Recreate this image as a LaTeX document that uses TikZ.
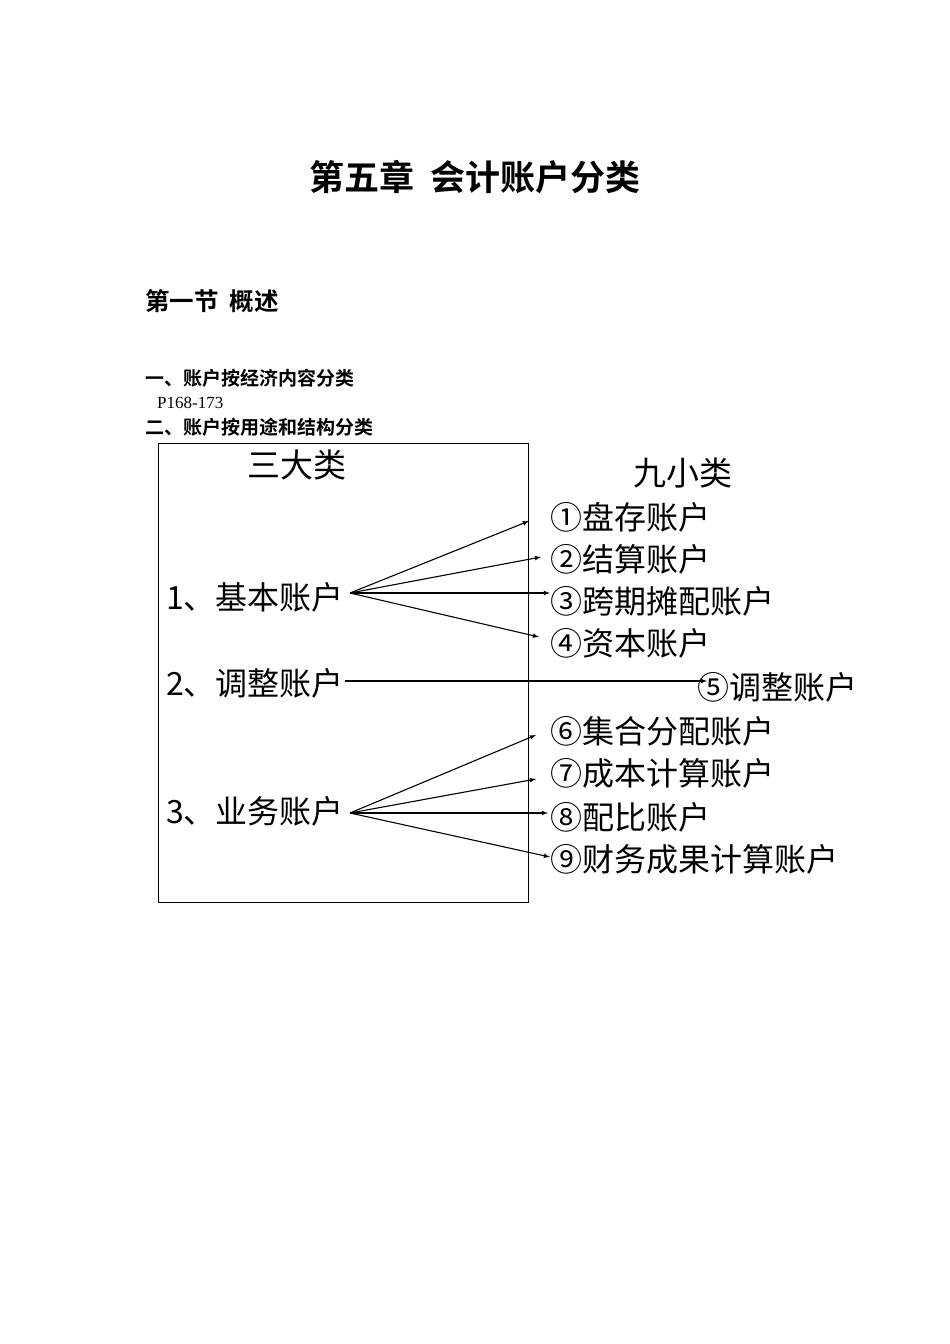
\documentclass[tikz,border=0pt]{standalone}
\usepackage{fontspec}
\setmainfont{Noto Sans CJK SC}
\newfontfamily\cjkb{Noto Sans CJK SC Bold}
\newfontfamily\serifl{Liberation Serif}
\begin{document}
\begin{tikzpicture}[x=1pt,y=-1pt,
  item/.style={anchor=west,inner sep=0pt,font=\fontsize{32}{32}\selectfont},
  arr/.style={-latex,line width=1.1pt}]
\useasboundingbox (0,0) rectangle (950,1344);
\node[inner sep=0pt] (title) at (475,177) {\cjkb\fontsize{35}{35}\selectfont 第五章\ \ 会计账户分类};
\node[anchor=west,inner sep=0pt] (sec) at (145,301) {\cjkb\fontsize{24.5}{24.5}\selectfont 第一节\ \ 概述};
\node[anchor=west,inner sep=0pt] (h1) at (145,378) {\cjkb\fontsize{19}{19}\selectfont 一、账户按经济内容分类};
\node[anchor=west,inner sep=0pt] (p) at (157,403) {\serifl\fontsize{17}{17}\selectfont P168-173};
\node[anchor=west,inner sep=0pt] (h2) at (145,427) {\cjkb\fontsize{19}{19}\selectfont 二、账户按用途和结构分类};
\draw[line width=1pt] (158,443) rectangle (528,902);
\node[inner sep=0pt,font=\fontsize{33}{33}\selectfont] (big) at (297,465) {三大类};
\node[inner sep=0pt,font=\fontsize{33}{33}\selectfont] (small) at (683,473) {九小类};
\node[item] (L1) at (166,597) {1、基本账户};
\node[item] (L2) at (166,683) {2、调整账户};
\node[item] (L3) at (166,811) {3、业务账户};
\node[item] (r1) at (550,517) {①盘存账户};
\node[item] (r2) at (550,559) {②结算账户};
\node[item] (r3) at (550,601) {③跨期摊配账户};
\node[item] (r4) at (550,643) {④资本账户};
\node[item] (r5) at (697,687) {⑤调整账户};
\node[item] (r6) at (550,731) {⑥集合分配账户};
\node[item] (r7) at (550,773) {⑦成本计算账户};
\node[item] (r8) at (550,817) {⑧配比账户};
\node[item] (r9) at (550,859) {⑨财务成果计算账户};
\coordinate (s1) at (350,593);
\coordinate (s2) at (345,681);
\coordinate (s3) at (350,813);
\coordinate (e1) at (529,521);
\coordinate (e2) at (541,557);
\coordinate (e3) at (550,593);
\coordinate (e4) at (539,637);
\coordinate (e5) at (707,681);
\coordinate (e6) at (536,735);
\coordinate (e7) at (536,779);
\coordinate (e8) at (548,813);
\coordinate (e9) at (550,857);
\foreach \e in {1,2,3,4} \draw[arr] (s1) -- (e\e);
\draw[arr] (s2) -- (e5);
\foreach \e in {6,7,8,9} \draw[arr] (s3) -- (e\e);
\end{tikzpicture}
\end{document}
